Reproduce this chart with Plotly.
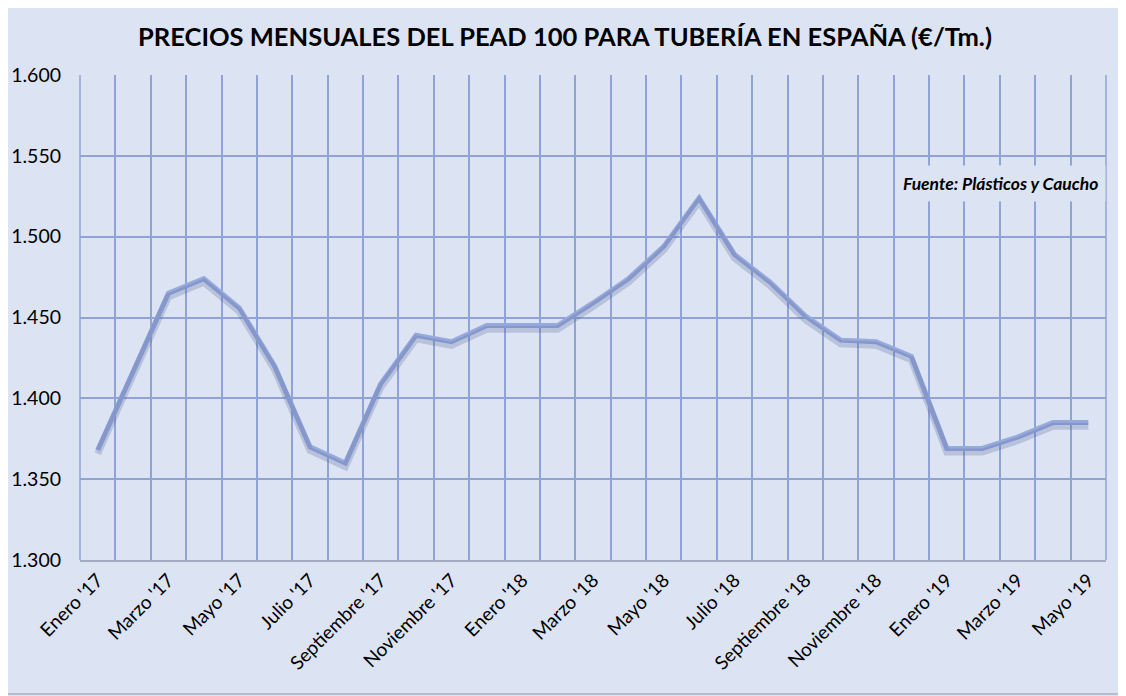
import plotly.graph_objects as go

months = ["Enero '17", "Febrero '17", "Marzo '17", "Abril '17", "Mayo '17", "Junio '17",
          "Julio '17", "Agosto '17", "Septiembre '17", "Octubre '17", "Noviembre '17", "Diciembre '17",
          "Enero '18", "Febrero '18", "Marzo '18", "Abril '18", "Mayo '18", "Junio '18",
          "Julio '18", "Agosto '18", "Septiembre '18", "Octubre '18", "Noviembre '18", "Diciembre '18",
          "Enero '19", "Febrero '19", "Marzo '19", "Abril '19", "Mayo '19"]

precios = [1368, 1417, 1465, 1474, 1456, 1420, 1370, 1360, 1409, 1439, 1435, 1445,
           1445, 1445, 1459, 1474, 1494, 1524, 1489, 1472, 1451, 1436, 1435, 1426,
           1369, 1369, 1376, 1385, 1385]

tick_labels = ["Enero '17", "Marzo '17", "Mayo '17", "Julio '17", "Septiembre '17",
               "Noviembre '17", "Enero '18", "Marzo '18", "Mayo '18", "Julio '18",
               "Septiembre '18", "Noviembre '18", "Enero '19", "Marzo '19", "Mayo '19"]

y_range = [1300, 1600]
y_step = 50

idx = list(range(len(months)))
tick_idx = [months.index(t) for t in tick_labels]

BG = "#DCE3F2"
GRID = "#8FA3D6"
LINE = "#97AADD"
FONT = "Lato"

fig = go.Figure()

# soft shadow under the line (same data on an overlaid, slightly shifted axis)
fig.add_trace(go.Scatter(x=idx, y=precios, mode="lines", yaxis="y2",
                         line=dict(color="rgba(80,95,150,0.25)", width=7),
                         hoverinfo="skip", showlegend=False))
fig.add_trace(go.Scatter(x=idx, y=precios, mode="lines",
                         line=dict(color=LINE, width=5),
                         customdata=months, hovertemplate="%{customdata}: %{y}<extra></extra>",
                         showlegend=False))

shift = 2.2
PW, PH = 1026, 485
fig.update_layout(
    width=1118, height=688,
    paper_bgcolor=BG, plot_bgcolor=BG,
    separators=",.",
    margin=dict(l=72, r=20, t=67, b=136, autoexpand=False),
    font=dict(family=FONT, color="#000000"),
    title=dict(text="<b>PRECIOS MENSUALES DEL PEAD 100 PARA TUBERÍA EN ESPAÑA (€/Tm.)</b>",
               x=(565 - 8) / 1118, xanchor="center", y=1 - 29 / 688, yanchor="middle", yref="container",
               font=dict(family=FONT, size=25.5, color="#000000")),
    xaxis=dict(range=[-0.5, len(months) - 0.5], tickmode="array", tickvals=tick_idx,
               ticktext=tick_labels, tickangle=-45, showgrid=False, zeroline=False,
               ticks="", ticklabelstandoff=0,
               tickfont=dict(family=FONT, size=19, color="#000000"),
               minor=dict(tick0=-0.5, dtick=1, showgrid=True, gridcolor=GRID, gridwidth=1.5, ticks=""),
               showline=True, linecolor="#A3ABC3", linewidth=1.5, mirror=False),
    yaxis=dict(range=y_range, dtick=y_step, tickformat=",d", showgrid=True, gridcolor=GRID,
               gridwidth=1.5, zeroline=False, ticks="", ticklabelstandoff=18,
               tickfont=dict(family=FONT, size=19.5, color="#000000"),
               showline=False),
    yaxis2=dict(range=[y_range[0] + shift, y_range[1] + shift], overlaying="y",
                visible=False, showgrid=False),
    shapes=[
        dict(type="line", xref="paper", yref="paper", x0=1, x1=1, y0=0, y1=1,
             line=dict(color=GRID, width=1.5)),
        dict(type="line", xref="paper", yref="paper", x0=0, x1=0, y0=0, y1=1,
             line=dict(color=GRID, width=1.5)),
        dict(type="rect", xref="paper", yref="paper", x0=-78 / PW, x1=1 + 18 / PW,
             y0=-134 / PH, y1=1 + 73 / PH, line=dict(color="#B8BCC8", width=2),
             fillcolor="rgba(0,0,0,0)", layer="below"),
    ],
    annotations=[dict(text="<b><i>Fuente: Plásticos y Caucho</i></b>", xref="paper", yref="paper",
                      x=1, y=(560 - 183) / PH, xanchor="right", yanchor="middle",
                      showarrow=False, bgcolor=BG, borderpad=7,
                      font=dict(family=FONT, size=17.5, color="#000000"))],
)

fig.write_html("out.html")
